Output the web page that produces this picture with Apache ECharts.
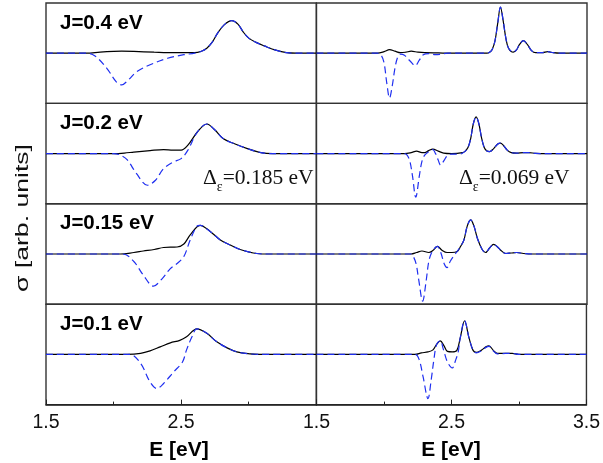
<!DOCTYPE html>
<html><head><meta charset="utf-8">
<script src="https://cdn.jsdelivr.net/npm/echarts@6/dist/echarts.min.js"></script>
<style>html,body{margin:0;padding:0;background:#fff}#c{width:603px;height:463px}</style>
</head><body><div id="c"></div>
<script>
// ---- data (E [eV], sigma [arb. units]) ----
const panelLabels = ['J=0.4 eV', 'J=0.2 eV', 'J=0.15 eV', 'J=0.1 eV'];
const xTickLabelsLeft = ['1.5', '2.5', ''];
const xTickLabelsRight = ['1.5', '2.5', '3.5'];
const xAxisTitle = 'E [eV]';
const yAxisTitle = 'σ [arb. units]';
const deltaLeft = '0.185 eV';
const deltaRight = '0.069 eV';

// J = 0.4 eV
const j04LeftSolid = [[1.5,0],[1.8,0],[1.9,0.02],[2.0,0.035],[2.06,0.04],[2.15,0.035],[2.3,0.02],[2.45,0.01],[2.6,0.01],[2.65,0.04],[2.69,0.1],[2.73,0.22],[2.77,0.4],[2.82,0.57],[2.875,0.65],[2.92,0.58],[2.96,0.42],[3.0,0.3],[3.05,0.22],[3.12,0.14],[3.2,0.06],[3.28,0.01],[3.35,0],[3.5,0]];
const j04LeftDashed = [[1.5,0],[1.8,0],[1.86,-0.05],[1.95,-0.3],[2.02,-0.57],[2.06,-0.63],[2.11,-0.53],[2.17,-0.37],[2.27,-0.23],[2.4,-0.1],[2.52,-0.03],[2.6,0.0],[2.65,0.04],[2.69,0.1],[2.73,0.22],[2.77,0.4],[2.82,0.57],[2.875,0.65],[2.92,0.58],[2.96,0.42],[3.0,0.3],[3.05,0.22],[3.12,0.14],[3.2,0.06],[3.28,0.01],[3.35,0],[3.5,0]];
const j04RightSolid = [[1.5,0],[1.95,0],[2.0,0.03],[2.04,0.07],[2.08,0.04],[2.12,0.01],[2.16,0.02],[2.2,0.04],[2.25,0.02],[2.3,0.01],[2.4,0.005],[2.5,0],[2.76,0],[2.78,0.02],[2.8,0.08],[2.82,0.25],[2.84,0.6],[2.86,0.92],[2.88,0.65],[2.9,0.3],[2.92,0.1],[2.955,0.02],[2.98,0.07],[3.0,0.17],[3.03,0.25],[3.06,0.17],[3.09,0.05],[3.12,0.01],[3.17,0.01],[3.21,0.03],[3.25,0.01],[3.3,0],[3.5,0]];
const j04RightDashed = [[1.5,0],[1.95,0],[1.98,-0.05],[2.0,-0.2],[2.02,-0.6],[2.04,-0.89],[2.06,-0.65],[2.08,-0.3],[2.1,-0.08],[2.12,-0.02],[2.15,-0.04],[2.19,-0.15],[2.23,-0.25],[2.26,-0.14],[2.29,-0.03],[2.33,-0.01],[2.38,-0.03],[2.42,-0.02],[2.47,0],[2.76,0],[2.78,0.02],[2.8,0.08],[2.82,0.25],[2.84,0.6],[2.86,0.92],[2.88,0.65],[2.9,0.3],[2.92,0.1],[2.955,0.02],[2.98,0.07],[3.0,0.17],[3.03,0.25],[3.06,0.17],[3.09,0.05],[3.12,0.01],[3.17,0.01],[3.21,0.03],[3.25,0.01],[3.3,0],[3.5,0]];

// J = 0.2 eV
const j02LeftSolid = [[1.5,0],[2.0,0],[2.08,0.01],[2.15,0.03],[2.27,0.06],[2.37,0.08],[2.44,0.07],[2.5,0.07],[2.55,0.17],[2.62,0.43],[2.69,0.59],[2.75,0.47],[2.81,0.3],[2.89,0.2],[2.99,0.1],[3.09,0.02],[3.18,0],[3.5,0]];
const j02LeftDashed = [[1.5,0],[2.0,0],[2.05,-0.03],[2.1,-0.12],[2.17,-0.4],[2.25,-0.63],[2.31,-0.53],[2.37,-0.3],[2.44,-0.17],[2.5,-0.1],[2.55,0.07],[2.62,0.43],[2.69,0.59],[2.75,0.47],[2.81,0.3],[2.89,0.2],[2.99,0.1],[3.09,0.02],[3.18,0],[3.5,0]];
const j02RightSolid = [[1.5,0],[2.15,0],[2.2,0.02],[2.24,0.05],[2.28,0.02],[2.3,0.02],[2.33,0.06],[2.36,0.09],[2.4,0.05],[2.44,0.01],[2.5,0],[2.58,0.02],[2.6,0.05],[2.62,0.12],[2.64,0.3],[2.66,0.6],[2.68,0.73],[2.7,0.6],[2.72,0.32],[2.74,0.12],[2.76,0.05],[2.78,0.04],[2.81,0.1],[2.84,0.19],[2.86,0.21],[2.88,0.17],[2.91,0.07],[2.94,0.02],[2.98,0.01],[3.03,0.02],[3.07,0.02],[3.12,0.005],[3.2,0],[3.5,0]];
const j02RightDashed = [[1.5,0],[2.15,0],[2.17,-0.03],[2.19,-0.15],[2.21,-0.45],[2.234,-0.87],[2.26,-0.45],[2.28,-0.15],[2.3,-0.03],[2.33,0.04],[2.36,0.08],[2.38,0.0],[2.4,-0.13],[2.417,-0.23],[2.44,-0.15],[2.47,-0.03],[2.5,-0.01],[2.56,-0.01],[2.58,0.01],[2.6,0.05],[2.62,0.12],[2.64,0.3],[2.66,0.6],[2.68,0.73],[2.7,0.6],[2.72,0.32],[2.74,0.12],[2.76,0.05],[2.78,0.04],[2.81,0.1],[2.84,0.19],[2.86,0.21],[2.88,0.17],[2.91,0.07],[2.94,0.02],[2.98,0.01],[3.03,0.02],[3.07,0.02],[3.12,0.005],[3.2,0],[3.5,0]];

// J = 0.15 eV
const j015LeftSolid = [[1.5,0],[2.05,0],[2.15,0.03],[2.22,0.06],[2.3,0.09],[2.37,0.13],[2.47,0.14],[2.52,0.2],[2.567,0.38],[2.64,0.57],[2.715,0.45],[2.79,0.28],[2.863,0.18],[2.937,0.09],[3.06,0.01],[3.15,0],[3.5,0]];
const j015LeftDashed = [[1.5,0],[2.07,0],[2.15,-0.15],[2.22,-0.42],[2.295,-0.64],[2.36,-0.49],[2.42,-0.29],[2.47,-0.19],[2.52,-0.05],[2.567,0.28],[2.615,0.55],[2.64,0.57],[2.715,0.45],[2.79,0.28],[2.863,0.18],[2.937,0.09],[3.06,0.01],[3.15,0],[3.5,0]];
const j015RightSolid = [[1.5,0],[2.2,0],[2.24,0.03],[2.28,0.06],[2.33,0.03],[2.36,0.07],[2.394,0.15],[2.43,0.07],[2.465,0.03],[2.5,0.03],[2.54,0.05],[2.565,0.15],[2.59,0.28],[2.615,0.56],[2.64,0.68],[2.665,0.55],[2.69,0.31],[2.725,0.09],[2.75,0.03],[2.78,0.12],[2.81,0.19],[2.835,0.15],[2.86,0.08],[2.9,0.01],[2.94,0.02],[2.98,0.03],[3.03,0.01],[3.1,0],[3.5,0]];
const j015RightDashed = [[1.5,0],[2.2,0],[2.21,-0.02],[2.235,-0.18],[2.255,-0.5],[2.285,-0.94],[2.31,-0.55],[2.33,-0.15],[2.35,0.02],[2.375,0.12],[2.394,0.15],[2.42,0.02],[2.445,-0.2],[2.465,-0.27],[2.49,-0.14],[2.52,-0.02],[2.54,0.05],[2.565,0.15],[2.59,0.28],[2.615,0.56],[2.64,0.68],[2.665,0.55],[2.69,0.31],[2.725,0.09],[2.75,0.03],[2.78,0.12],[2.81,0.19],[2.835,0.15],[2.86,0.08],[2.9,0.01],[2.94,0.02],[2.98,0.03],[3.03,0.01],[3.1,0],[3.5,0]];

// J = 0.1 eV
const j01LeftSolid = [[1.5,0],[2.1,0],[2.2,0.02],[2.27,0.07],[2.345,0.15],[2.42,0.23],[2.49,0.28],[2.54,0.35],[2.616,0.51],[2.69,0.42],[2.764,0.25],[2.84,0.13],[2.912,0.05],[3.01,0.01],[3.08,0],[3.5,0]];
const j01LeftDashed = [[1.5,0],[2.12,0],[2.2,-0.18],[2.27,-0.55],[2.32,-0.68],[2.37,-0.58],[2.444,-0.35],[2.51,-0.15],[2.54,0.09],[2.58,0.35],[2.616,0.51],[2.69,0.42],[2.764,0.25],[2.84,0.13],[2.912,0.05],[3.01,0.01],[3.08,0],[3.5,0]];
const j01RightSolid = [[1.5,0],[2.23,0],[2.277,0.03],[2.326,0.05],[2.363,0.09],[2.39,0.2],[2.417,0.27],[2.445,0.17],[2.47,0.06],[2.506,0.05],[2.54,0.08],[2.565,0.33],[2.597,0.67],[2.63,0.33],[2.66,0.08],[2.684,0.04],[2.72,0.08],[2.755,0.15],[2.778,0.17],[2.81,0.08],[2.84,0.02],[2.9,0.02],[2.95,0.02],[3.0,0],[3.5,0]];
const j01RightDashed = [[1.5,0],[2.23,0],[2.26,-0.1],[2.29,-0.45],[2.326,-0.88],[2.35,-0.5],[2.37,-0.1],[2.39,0.2],[2.417,0.27],[2.44,0.1],[2.47,-0.15],[2.506,-0.27],[2.53,-0.12],[2.55,0.05],[2.565,0.33],[2.597,0.67],[2.63,0.33],[2.66,0.08],[2.684,0.03],[2.72,0.07],[2.755,0.14],[2.778,0.16],[2.81,0.07],[2.84,0.01],[2.9,0.02],[2.95,0.02],[3.0,0],[3.5,0]];

const solidData = [[j04LeftSolid, j04RightSolid],[j02LeftSolid, j02RightSolid],[j015LeftSolid, j015RightSolid],[j01LeftSolid, j01RightSolid]];
const dashedData = [[j04LeftDashed, j04RightDashed],[j02LeftDashed, j02RightDashed],[j015LeftDashed, j015RightDashed],[j01LeftDashed, j01RightDashed]];

// ---- layout ----
const FONT = '"Liberation Sans", Arial, sans-serif';
const SERIF = '"Liberation Serif", "Times New Roman", serif';
const rowTop = 3, rowH = 100.4;
const colLeft = [46, 316.5], colW = [270.3, 270.5];

const grids = [], xAxes = [], yAxes = [], series = [];
for (let r = 0; r < 4; r++) {
  for (let c = 0; c < 2; c++) {
    const i = r * 2 + c;
    grids.push({ left: colLeft[c], top: rowTop + r * rowH, width: colW[c], height: rowH,
      show: true, borderColor: '#333', borderWidth: 1.4, backgroundColor: 'transparent' });
    const bottom = r === 3;
    const labels = c === 0 ? xTickLabelsLeft : xTickLabelsRight;
    xAxes.push({ gridIndex: i, type: 'value', min: 1.5, max: 3.5, interval: 1,
      show: bottom,
      axisLine: { show: true, onZero: false, lineStyle: { color: '#222', width: 1.5 } },
      axisTick: { show: true, inside: true, length: 5, lineStyle: { color: '#222', width: 1 } },
      minorTick: { show: true, splitNumber: 2, length: 3, lineStyle: { color: '#222', width: 1 } },
      splitLine: { show: false },
      axisLabel: { show: true, margin: 8, fontSize: 19.5, color: '#111', fontFamily: FONT,
        formatter: v => labels[Math.round(v - 1.5)] } });
    yAxes.push({ gridIndex: i, type: 'value', min: -1, max: 1, show: false });
    series.push({ type: 'line', xAxisIndex: i, yAxisIndex: i, data: solidData[r][c],
      smooth: 0.35, showSymbol: false, silent: true,
      lineStyle: { color: '#000', width: 1.2 } });
    series.push({ type: 'line', xAxisIndex: i, yAxisIndex: i, data: dashedData[r][c],
      smooth: 0.35, showSymbol: false, silent: true,
      lineStyle: { color: '#1f2ff0', width: 1.2, type: [7, 4] } });
  }
}

const graphics = [];
panelLabels.forEach((t, r) => {
  graphics.push({ type: 'text', x: 60, y: rowTop + r * rowH + 20,
    style: { text: t, font: 'bold 20.5px ' + FONT, fill: '#000', verticalAlign: 'middle' } });
});
function deltaText(x, val) {
  return { type: 'text', x: x, y: 178,
    style: { text: '{d|Δ}{s|ε}{d|=' + val + '}', verticalAlign: 'middle', fill: '#111',
      rich: {
        d: { fontFamily: SERIF, fontSize: 21.5, lineHeight: 32, verticalAlign: 'middle', fill: '#111' },
        s: { fontFamily: SERIF, fontSize: 14, lineHeight: 14, verticalAlign: 'bottom', fill: '#111' }
      } } };
}
graphics.push(deltaText(203, deltaLeft));
graphics.push(deltaText(459, deltaRight));
graphics.push({ type: 'text', x: 179, y: 450,
  style: { text: xAxisTitle, font: 'bold 21px ' + FONT, fill: '#000', align: 'center', verticalAlign: 'middle' } });
graphics.push({ type: 'text', x: 451, y: 450,
  style: { text: xAxisTitle, font: 'bold 21px ' + FONT, fill: '#000', align: 'center', verticalAlign: 'middle' } });
graphics.push({ type: 'text', x: 23, y: 218, rotation: Math.PI / 2, scaleX: 1.4, scaleY: 1,
  style: { text: yAxisTitle, font: '19px ' + FONT, fill: '#111', align: 'center', verticalAlign: 'middle' } });

const chart = echarts.init(document.getElementById('c'), null, { renderer: 'canvas' });
chart.setOption({ animation: false, backgroundColor: '#fff', grid: grids, xAxis: xAxes, yAxis: yAxes,
  series: series, graphic: graphics });
</script></body></html>
